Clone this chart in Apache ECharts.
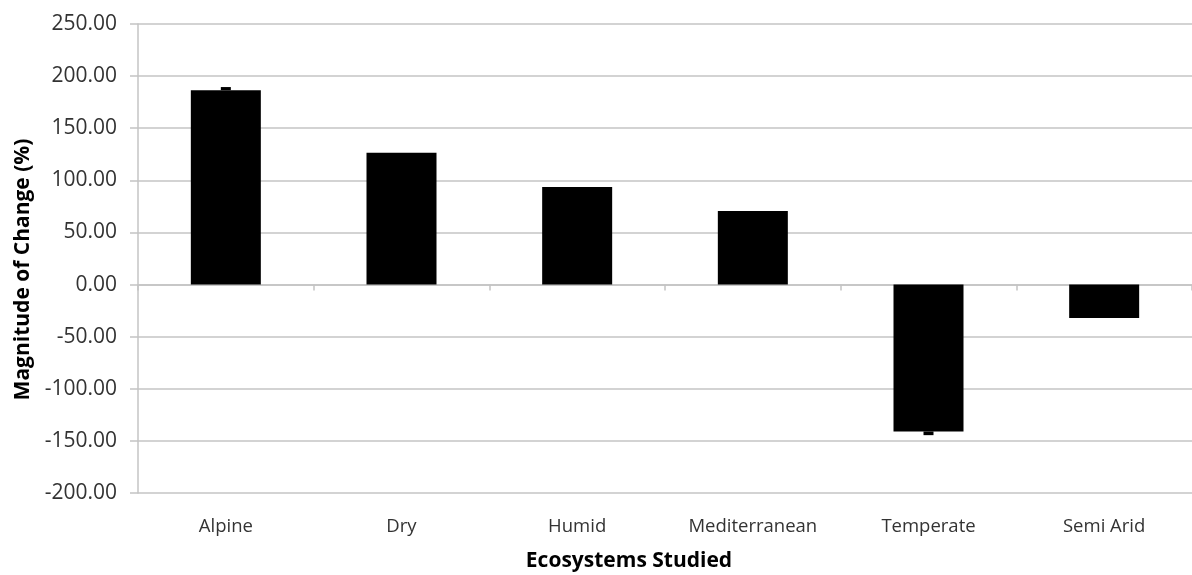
<!DOCTYPE html>
<html>
<head>
<meta charset="utf-8">
<style>
	html, body { margin: 0; padding: 0; background: #fff; }
	#chart { width: 1192px; height: 575px; }
</style>
<script src="https://cdn.jsdelivr.net/npm/echarts@6/dist/echarts.min.js"></script>
</head>
<body>
<div id="chart"></div>
<script>
// 分类
const categories = ['Alpine', 'Dry', 'Humid', 'Mediterranean', 'Temperate', 'Semi Arid']
// 柱值
const changeValues = [186.5, 126.5, 93.5, 70.5, -141, -32]
// 误差线末端（仅有两个）
const errorEnds = [189.5, null, null, null, -144.5, null]
// y轴刻度
const yMin = -200
const yMax = 250
const yStep = 50

const textColor = '#333333'
const gridColor = '#c4c4c4'

const chart = echarts.init(document.getElementById('chart'))

// 误差线数据
const errorData = []
errorEnds.forEach((end, i) => {
	if (end === null) {
		return
	}
	errorData.push([i, changeValues[i], end])
})

chart.setOption({
	animation: false,
	grid: {
		left: 138,
		right: 0,
		top: 24,
		bottom: 82,
		containLabel: false,
		outerBoundsMode: 'none',
	},
	xAxis: [
		{
			type: 'category',
			data: categories,
			position: 'bottom',
			axisLine: { show: false, onZero: false },
			axisTick: { show: false },
			axisLabel: {
				margin: 24,
				color: textColor,
				fontFamily: 'Open Sans',
				fontSize: 18.5,
			},
			name: 'Ecosystems Studied',
			nameLocation: 'middle',
			nameGap: 58,
			nameTextStyle: {
				color: '#000',
				fontFamily: 'Open Sans',
				fontWeight: 'bold',
				fontSize: 21,
				padding: [0, 72, 0, 0],
			},
		},
		{
			// 零线上的分类刻度
			type: 'category',
			data: categories,
			position: 'top',
			axisLine: { show: true, onZero: true, lineStyle: { color: gridColor, width: 1.5 } },
			axisTick: { show: true, inside: true, length: 6, lineStyle: { color: gridColor, width: 1.5 } },
			axisLabel: { show: false },
		},
	],
	yAxis: {
		type: 'value',
		min: yMin,
		max: yMax,
		interval: yStep,
		axisLine: { show: true, lineStyle: { color: gridColor, width: 1.5 } },
		axisTick: { show: true, length: 8, lineStyle: { color: gridColor, width: 1.5 } },
		splitLine: { lineStyle: { color: gridColor, width: 1.5 } },
		axisLabel: {
			margin: 21,
			color: textColor,
			fontFamily: 'Open Sans',
			fontSize: 21,
			formatter: v => v.toFixed(2),
		},
		name: 'Magnitude of Change (%)',
		nameLocation: 'middle',
		nameGap: 102,
		nameTextStyle: {
			color: '#000',
			fontFamily: 'Open Sans',
			fontWeight: 'bold',
			fontSize: 21,
			padding: [0, 22, 0, 0],
		},
	},
	series: [
		{
			name: 'change',
			type: 'bar',
			xAxisIndex: 0,
			data: changeValues,
			barWidth: 70,
			itemStyle: { color: '#000' },
		},
		{
			name: 'error',
			type: 'custom',
			xAxisIndex: 0,
			data: errorData,
			z: 3,
			renderItem: (params, api) => {
				const base = api.coord([api.value(0), api.value(1)])
				const end = api.coord([api.value(0), api.value(2)])
				const top = Math.min(base[1], end[1])
				const h = Math.abs(base[1] - end[1])
				return {
					type: 'rect',
					shape: { x: base[0] - 5, y: top, width: 10, height: h },
					style: { fill: '#000' },
				}
			},
		},
	],
})
</script>
</body>
</html>
